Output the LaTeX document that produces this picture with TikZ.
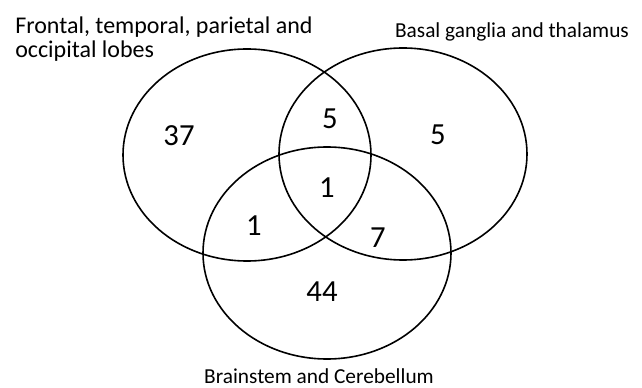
\documentclass[tikz,border=0pt]{standalone}
\usepackage{fontspec}
\setmainfont{Carlito}
\usepackage{tikz}
\usetikzlibrary{shapes.geometric, positioning}

\begin{document}
\begin{tikzpicture}[x=0.75pt, y=-0.75pt,
    set/.style={ellipse, draw, line width=1.2pt, inner sep=0pt,
                minimum width=186pt, minimum height=159pt},
    count/.style={font=\fontsize{23}{27}\selectfont},
    setlabel/.style={font=\fontsize{16}{17.5}\selectfont, inner sep=0pt}]

    \useasboundingbox (0,0) rectangle (642,388);

    % ================= Sets =================
    \node[set] (lobes)     at (247,155) {};
    \node[set] (basal)     at (403,154) {};
    \node[set] (brainstem) at (327,253) {};

    % ================= Set names =================
    \node[setlabel, font=\fontsize{18}{17.5}\selectfont, anchor=north west, align=left]
        (lobesname) at (15,17) {Frontal, temporal, parietal and\\occipital lobes};
    \node[setlabel, anchor=base] (basalname)     at (512,38)  {Basal ganglia and thalamus};
    \node[setlabel, anchor=base] (brainstemname) at (319,383) {Brainstem and Cerebellum};

    % ================= Counts =================
    \node[count] (onlylobes)     at (179,136) {37};
    \node[count] (lobesbasal)    at (330,119) {5};
    \node[count] (onlybasal)     at (438,135) {5};
    \node[count] (allthree)      at (327,188) {1};
    \node[count] (lobesstem)     at (254,226) {1};
    \node[count] (basalstem)     at (378,238) {7};
    \node[count] (onlybrainstem) at (322,292) {44};

\end{tikzpicture}
\end{document}
